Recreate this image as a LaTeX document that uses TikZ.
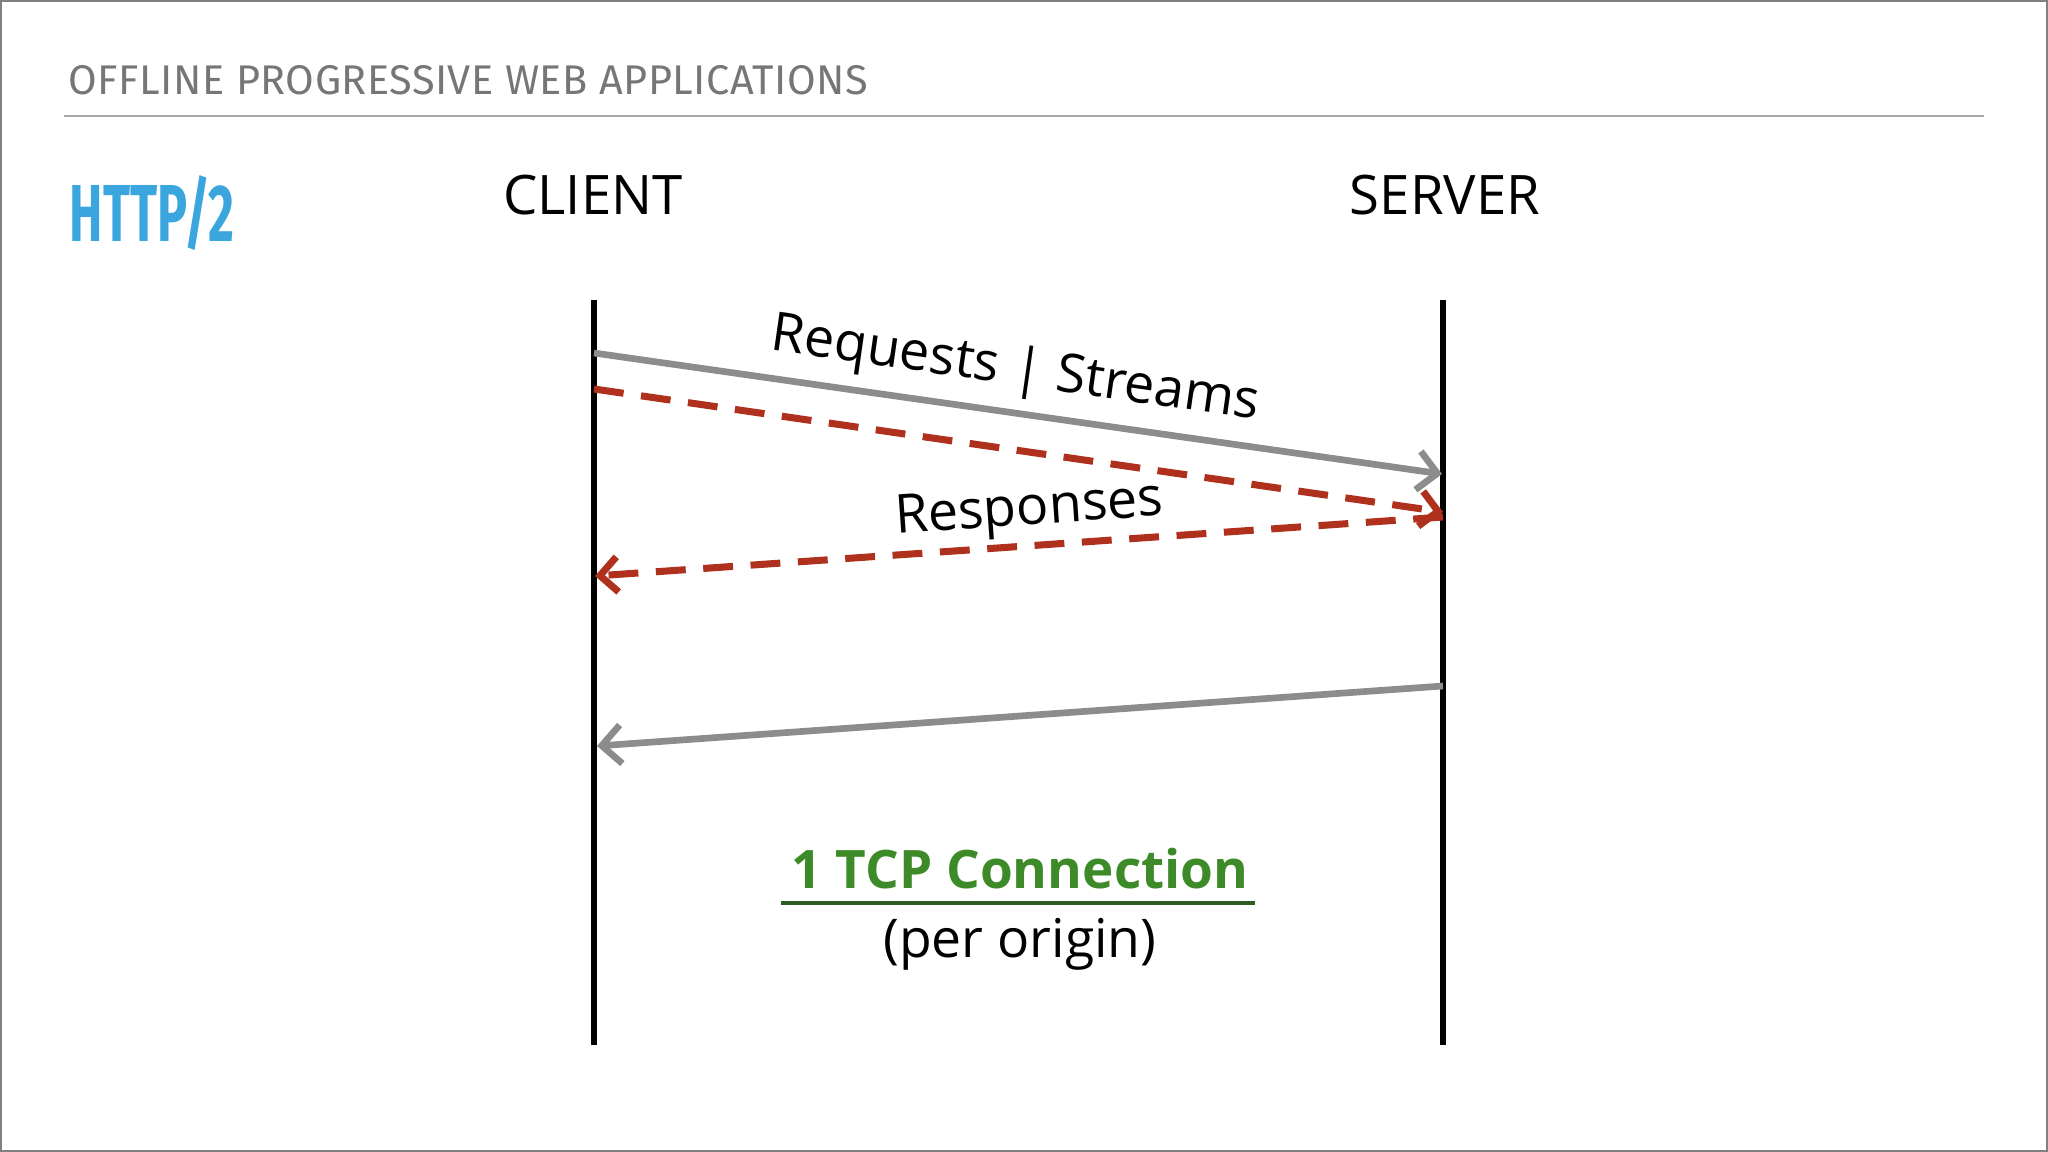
\documentclass[tikz,border=0pt]{standalone}
\usepackage{fontspec}
\setmainfont{Open Sans}
\newfontfamily\headfont{Fira Sans}
\newfontfamily\headspaced[LetterSpace=1.2]{Fira Sans}
\usetikzlibrary{arrows.meta}

\definecolor{slidegray}{HTML}{767676}
\definecolor{rulegray}{HTML}{A8A8A8}
\definecolor{httpblue}{HTML}{3AA6DD}
\definecolor{reqgray}{HTML}{8C8C8C}
\definecolor{respred}{HTML}{B0301E}
\definecolor{tcpgreen}{HTML}{3C8A28}
\definecolor{tcpline}{HTML}{2F5C20}

\begin{document}
\begin{tikzpicture}[
        lifeline/.style = {line width = 1.7pt, black},
        reqarrow/.style = {line width = 1.9pt, reqgray, -{Straight Barb[length = 5.5pt, width = 11pt]}},
        resparrow/.style = {line width = 2pt, respred, dash pattern = on 8.5pt off 5pt, -{Straight Barb[length = 5pt, width = 10pt]}},
        msglabel/.style = {font = \fontsize{15.3}{18}\selectfont},
        side/.style = {font = \fontsize{15.5}{18}\selectfont}
    ]
        \useasboundingbox (0, 0) rectangle (20.48, -11.52);
        \draw [line width = 0.6pt, gray] (0.01, -0.01) rectangle (20.47, -11.51);
        % slide header
        \node [anchor = west, inner sep = 0, slidegray, font = \headspaced\fontsize{11.8}{14}\selectfont] (title) at (0.68, -0.80) {OFFLINE PROGRESSIVE WEB APPLICATIONS};
        \draw [line width = 0.6pt, rulegray] (0.64, -1.16) -- (19.84, -1.16);
        \node [anchor = west, xscale = 0.62, httpblue, font = \headfont\bfseries\fontsize{23}{26}\selectfont] (proto) at (0.62, -2.135) {HTTP/2};
        % the two ends
        \node [side] (client) at (5.93, -1.95) {CLIENT};
        \node [side] (server) at (14.45, -1.95) {SERVER};
        \coordinate (ctop) at (5.94, -3.00);
        \coordinate (cbot) at (5.94, -10.45);
        \coordinate (stop) at (14.43, -3.00);
        \coordinate (sbot) at (14.43, -10.45);
        \draw [lifeline] (ctop) -- (cbot);
        \draw [lifeline] (stop) -- (sbot);
        % messages
        \coordinate (c1) at (5.94, -3.53);
        \coordinate (s1) at (14.42, -4.74);
        \coordinate (c2) at (5.94, -3.89);
        \coordinate (s2) at (14.43, -5.12);
        \coordinate (s3) at (14.43, -5.17);
        \coordinate (c3) at (5.95, -5.76);
        \coordinate (s4) at (14.43, -6.86);
        \coordinate (c4) at (5.97, -7.46);
        \draw [reqarrow] (c1) -- node [msglabel, sloped, above, pos = 0.49, black] (reqlabel) {Requests | Streams} (s1);
        \draw [resparrow] (c2) -- (s2);
        \draw [resparrow] (s3) -- node [msglabel, sloped, above = -2pt, pos = 0.485, black] (resplabel) {Responses} (c3);
        \draw [reqarrow] (s4) -- (c4);
        % connection note
        \node [tcpgreen, font = \bfseries\fontsize{15.1}{18}\selectfont] (tcp) at (10.20, -8.69) {1 TCP Connection};
        \coordinate (ulleft) at (7.81, -9.03);
        \coordinate (ulright) at (12.55, -9.03);
        \draw [line width = 1pt, tcpline] (ulleft) -- (ulright);
        \node [font = \fontsize{15.2}{18}\selectfont] (origin) at (10.20, -9.44) {(per origin)};
    \end{tikzpicture}
\end{document}
